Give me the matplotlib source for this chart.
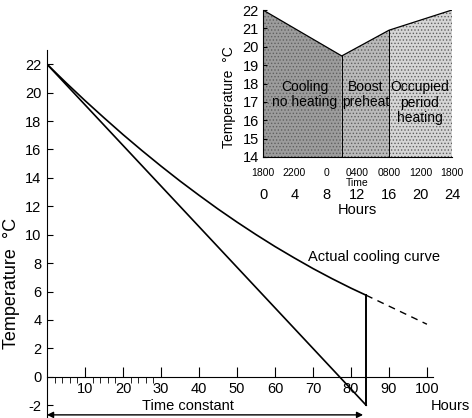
import numpy as np
import matplotlib
matplotlib.use('Agg')
from matplotlib import pyplot as plt

plt.rcParams['font.family'] = ['Liberation Sans', 'DejaVu Sans']
plt.rcParams['axes.unicode_minus'] = False
plt.rcParams['hatch.color'] = '#606060'
plt.rcParams['hatch.linewidth'] = 0.6

# main chart data
curve_h = [0, 5, 10, 15, 20, 25, 30, 35, 40, 45, 50, 55, 60, 65, 70, 75, 80, 84]
curve_t = [22, 20.7, 19.44, 18.23, 17.05, 15.92, 14.83, 13.78, 12.78, 11.81,
           10.89, 10.01, 9.17, 8.38, 7.62, 6.91, 6.24, 5.74]
tangent_h = [0, 84]
tangent_t = [22, -2]
extrap_h = [84, 100]
extrap_t = [5.74, 3.7]
tau = 83.2

# inset data
cycle_h = [0, 10, 16, 24]
cycle_t = [22, 19.5, 20.9, 22]
clock_labels = ['1800', '2200', '0', '0400', '0800', '1200', '1800']
hour_labels = ['0', '4', '8', '12', '16', '20', '24']
phase_names = ['Cooling\nno heating', 'Boost\npreheat', 'Occupied\nperiod\nheating']
phase_colors = ['#9c9c9c', '#bababa', '#d6d6d6']

fig = plt.figure(figsize=(4.72, 4.18), dpi=100)
ax = fig.add_axes([47/472, 0.0, 386/472, 1 - 50/418])
ax.set_xlim(0, 101.6)
ax.set_ylim(-2.9, 23)

ax.plot(curve_h, curve_t, color='black', lw=1.2)
ax.plot(tangent_h, tangent_t, color='black', lw=1.2)
ax.plot([84, 84], [-2, 5.74], color='black', lw=1.4)
ax.plot(extrap_h, extrap_t, color='black', lw=1.0, ls=(0, (5, 4)))

ax.spines['top'].set_visible(False)
ax.spines['right'].set_visible(False)
ax.spines['bottom'].set_position(('data', 0))
ax.spines['left'].set_linewidth(0.8)
ax.spines['bottom'].set_linewidth(0.8)
ax.set_yticks(range(-2, 23, 2))
ax.set_xticks(range(10, 101, 10))
ax.set_xticks(range(2, 30, 2), minor=True)
ax.tick_params(axis='both', direction='in', labelsize=10.5, width=0.8)
ax.tick_params(axis='x', which='major', length=7, pad=4)
ax.tick_params(axis='x', which='minor', length=4, width=0.6)
ax.tick_params(axis='y', length=4, pad=4)

ax.annotate('', xy=(0, -2.68), xytext=(tau, -2.68),
            arrowprops=dict(arrowstyle='<|-|>', color='black', lw=1.0,
                            mutation_scale=9, shrinkA=0, shrinkB=0),
            annotation_clip=False)
ax.text(37, -2.05, 'Time constant', ha='center', va='center', fontsize=10.5)
ax.text(111.3, -2.05, 'Hours', ha='right', va='center', fontsize=10.5,
        clip_on=False)
ax.text(68.7, 8.4, 'Actual cooling curve', ha='left', va='center',
        fontsize=10.5)
fig.text(12/472, 1 - 283/418, 'Temperature  °C', rotation=90, ha='center',
         va='center', fontsize=13)

# inset
ins = fig.add_axes([263/472, 1 - 157/418, 189/472, 147/418])
ins.set_xlim(0, 24)
ins.set_ylim(14, 22)
for i in range(3):
    xs = cycle_h[i:i + 2]
    ys = cycle_t[i:i + 2]
    ins.fill_between(xs, 14, ys, facecolor=phase_colors[i], edgecolor='none',
                     hatch='.....', lw=0)
ins.plot(cycle_h, cycle_t, color='black', lw=0.9)
for h, t in zip(cycle_h[1:], cycle_t[1:]):
    ins.plot([h, h], [14, t], color='black', lw=0.7)

ins.text(5.3, 17.4, phase_names[0], ha='center', va='center', fontsize=10,
         linespacing=1.15)
ins.text(13.0, 17.4, phase_names[1], ha='center', va='center', fontsize=10,
         linespacing=1.15)
ins.text(19.9, 16.95, phase_names[2], ha='center', va='center', fontsize=10,
         linespacing=1.15)

ins.spines['top'].set_visible(False)
ins.spines['right'].set_visible(False)
ins.spines['left'].set_linewidth(0.8)
ins.spines['bottom'].set_linewidth(0.8)
ins.set_yticks(range(14, 23))
ins.set_xticks(range(0, 25, 4))
ins.set_xticklabels(clock_labels, fontsize=7.5)
ins.tick_params(axis='y', direction='in', length=3, labelsize=10.5, pad=3)
ins.tick_params(axis='x', direction='in', length=0, pad=8)
fig.text(229/472, 1 - 97/418, 'Temperature  °C', rotation=90, ha='center',
         va='center', fontsize=10)
ins.text(12, 12.6, 'Time', ha='center', va='center', fontsize=7.5)
for h, lab in zip(range(0, 25, 4), hour_labels):
    ins.text(h, 11.95, lab, ha='center', va='center', fontsize=10.5)
ins.text(12, 11.1, 'Hours', ha='center', va='center', fontsize=10.5)

fig.savefig('out.png', dpi=100)
